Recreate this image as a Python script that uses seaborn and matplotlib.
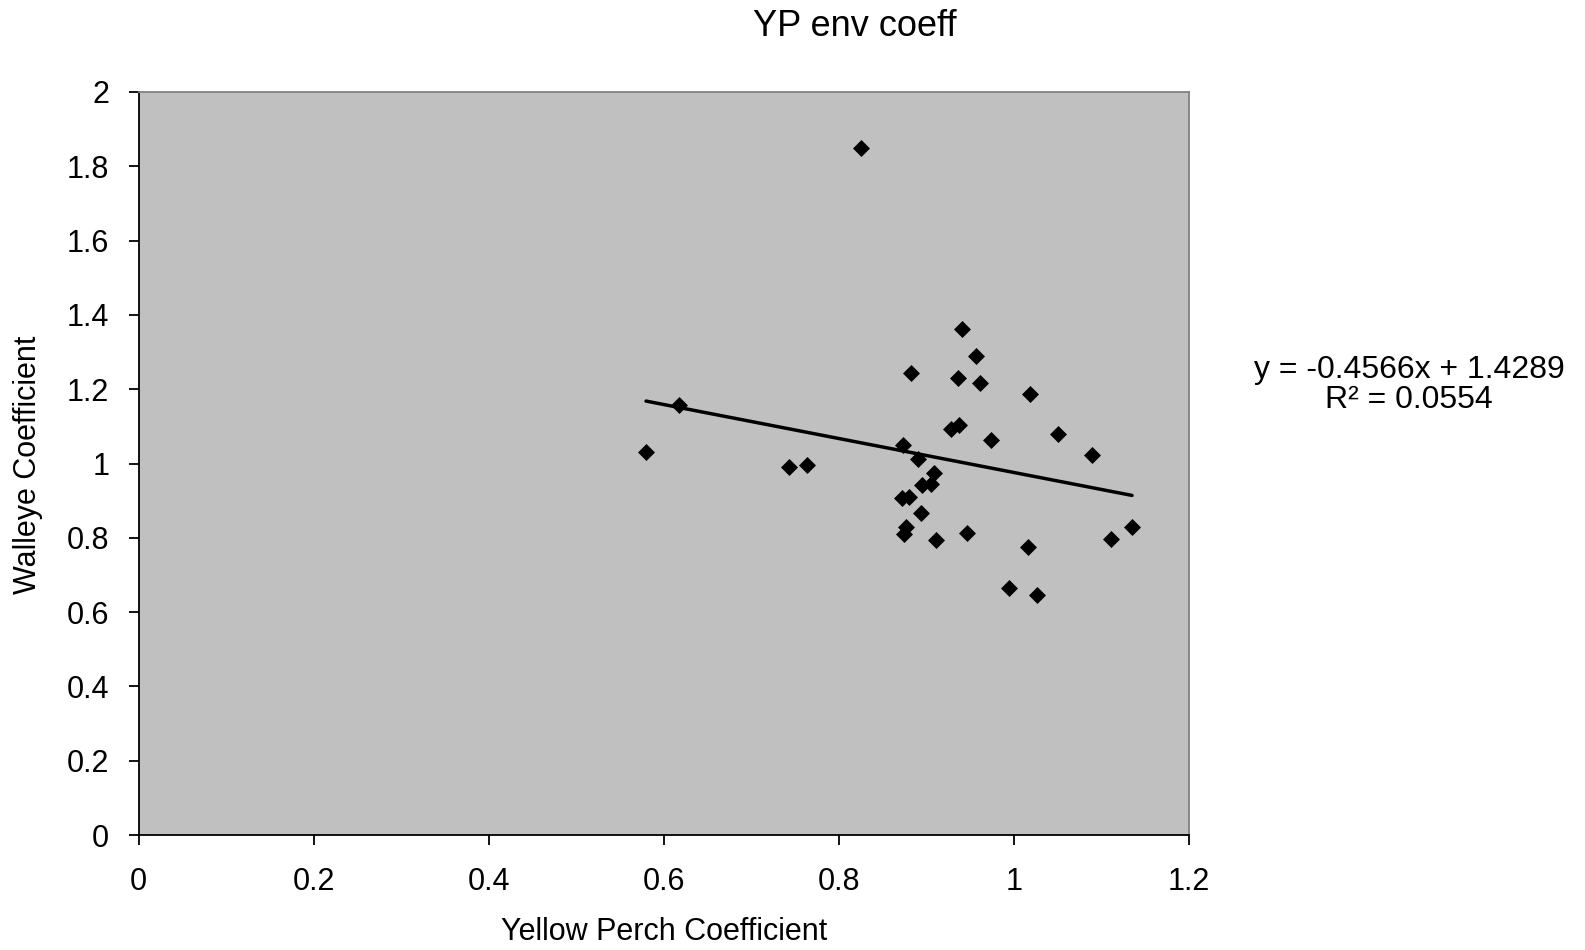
import numpy as np
import pandas as pd
import matplotlib
matplotlib.use("Agg")
import matplotlib.pyplot as plt
import seaborn as sns

yp_coeff = [0.9406, 0.9566, 0.8823, 0.9367, 0.9615, 1.0183, 0.9284, 0.9375, 0.9737,
            1.0503, 1.0895, 0.8735, 0.8903, 0.9089, 0.8952, 0.9059, 0.8724, 0.8807,
            0.8944, 0.8766, 0.8743, 0.9109, 0.9463, 1.0160, 0.9943, 1.0266, 1.1108,
            1.1352, 0.8259, 0.6172, 0.5799, 0.7429, 0.7635]
we_coeff = [1.361, 1.289, 1.243, 1.231, 1.216, 1.186, 1.094, 1.103, 1.062,
            1.079, 1.024, 1.050, 1.011, 0.975, 0.941, 0.946, 0.907, 0.911,
            0.867, 0.828, 0.810, 0.795, 0.813, 0.774, 0.665, 0.647, 0.796,
            0.830, 1.848, 1.158, 1.031, 0.991, 0.996]
x_ticks = [0, 0.2, 0.4, 0.6, 0.8, 1, 1.2]
y_ticks = [0, 0.2, 0.4, 0.6, 0.8, 1, 1.2, 1.4, 1.6, 1.8, 2]
title = "YP env coeff"
x_label = "Yellow Perch Coefficient"
y_label = "Walleye Coefficient"
eq_text = "y = -0.4566x + 1.4289\nR² = 0.0554"

sns.set_theme(style="white")
plt.rcParams['font.family'] = ['Liberation Sans', 'DejaVu Sans']
plt.rcParams['text.color'] = 'black'
plt.rcParams['axes.labelcolor'] = 'black'
plt.rcParams['xtick.color'] = 'black'
plt.rcParams['ytick.color'] = 'black'

df = pd.DataFrame({"x": yp_coeff, "y": we_coeff})

fig = plt.figure(figsize=(15.85, 9.5), dpi=100)
ax = fig.add_axes([0.0874, 0.121, 0.6626, 0.7822])
ax.set_facecolor("#c0c0c0")

sns.regplot(data=df, x="x", y="y", ax=ax, ci=None, truncate=True, marker="D",
            scatter_kws=dict(color="black", s=75, linewidths=0, alpha=1, zorder=3),
            line_kws=dict(color="black", linewidth=2.5, zorder=2))

ax.set_xlim(0, 1.2)
ax.set_ylim(0, 2)
ax.set_xticks(x_ticks)
ax.set_xticklabels([f"{t:g}" for t in x_ticks])
ax.set_yticks(y_ticks)
ax.set_yticklabels([f"{t:g}" for t in y_ticks])
ax.tick_params(axis="both", direction="out", length=7, width=1.3, color="black",
               labelsize=22, bottom=True, left=True, labelcolor="black")
ax.tick_params(axis="x", pad=16)
ax.tick_params(axis="y", pad=14)
ax.set_xlabel(x_label, fontsize=22, va="center")
ax.xaxis.set_label_coords(0.5, -0.13)
ax.set_ylabel(y_label, fontsize=22, va="center")
ax.yaxis.set_label_coords(-0.105, 0.498)
for s in ["left", "bottom"]:
    ax.spines[s].set_color("black")
    ax.spines[s].set_linewidth(1.3)
for s in ["top", "right"]:
    ax.spines[s].set_color("#808080")
    ax.spines[s].set_linewidth(1.3)

fig.text(0.539, 0.9716, title, ha="center", va="center", fontsize=26)
fig.text(0.889, 0.595, eq_text, ha="center", va="center", fontsize=23, linespacing=1.0)

fig.savefig("out.png", dpi=100)
